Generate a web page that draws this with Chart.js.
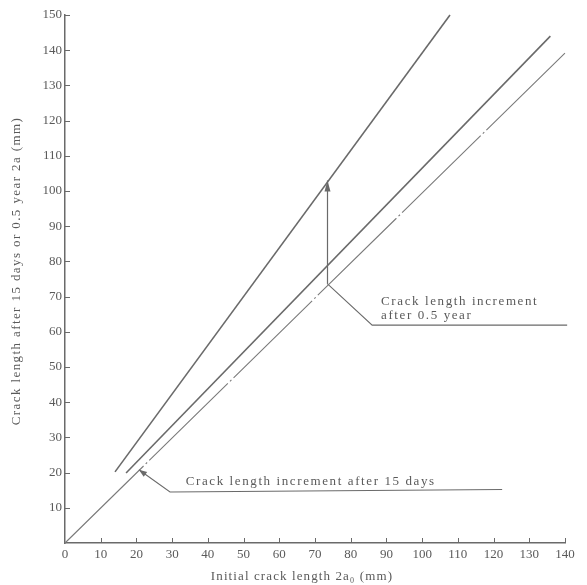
<!doctype html>
<html lang="en">
 <head>
  <meta charset="UTF-8">
  <title>Crack length increment</title>
  <script src="https://cdn.jsdelivr.net/npm/chart.js"></script>
  <style>
        body {
            margin: 0;
            padding: 0;
            background: #fff;
        }

        #wrap {
            width: 587px;
            height: 585px;
        }
    </style>
 </head>
 <body>
  <div id="wrap">
   <canvas id="chart"></canvas>
  </div>
  <script>
        // values (mm)
        const halfYearLine = [{ x: 14, y: 20.2 }, { x: 107.8, y: 150 }];
        const fifteenDayLine = [{ x: 17.1, y: 19.9 }, { x: 135.9, y: 144 }];
        const initialLine = [{ x: 0, y: 0 }, { x: 140, y: 139.2 }];

        const incrementArrow = [{ x: 73.5, y: 73.6 }, { x: 73.5, y: 103 }];
        const leaderHalfYear = [{ x: 73.5, y: 73.6 }, { x: 86, y: 61.9 }, { x: 140.6, y: 61.9 }];
        const leaderFifteenDays = [{ x: 20.7, y: 20.8 }, { x: 29.4, y: 14.5 }, { x: 122.4, y: 15.2 }];

        const xTicks = [0, 10, 20, 30, 40, 50, 60, 70, 80, 90, 100, 110, 120, 130, 140];
        const yTicks = [10, 20, 30, 40, 50, 60, 70, 80, 90, 100, 110, 120, 130, 140, 150];

        const notes = [
            { text: 'Crack length increment', x: 88.5, y: 67.5 },
            { text: 'after 0.5 year', x: 88.5, y: 63.5 },
            { text: 'Crack length increment after 15 days', x: 33.8, y: 16.6 }
        ];

        const xTitle = 'Initial crack length 2a\u2080 (mm)';
        const yTitle = 'Crack length after 15 days or 0.5 year 2a (mm)';

        const ink = '#6a6a6a';
        const textInk = '#5a5a5a';
        const serif = "'Liberation Serif', 'DejaVu Serif', serif";

        // small ticks pointing into the plot, arrow heads, notes and spaced-out axis titles
        const decorations = {
            id: 'decorations',
            afterDraw(chart) {
                const ctx = chart.ctx;
                const xs = chart.scales.x, ys = chart.scales.y;
                const area = chart.chartArea;
                ctx.save();
                ctx.strokeStyle = ink;
                ctx.lineWidth = 1;
                xTicks.forEach(v => {
                    if (v === 0) return;
                    const px = Math.round(xs.getPixelForValue(v)) + 0.5;
                    ctx.beginPath();
                    ctx.moveTo(px, area.bottom);
                    ctx.lineTo(px, area.bottom - 5);
                    ctx.stroke();
                });
                yTicks.forEach(v => {
                    const py = Math.round(ys.getPixelForValue(v)) + 0.5;
                    ctx.beginPath();
                    ctx.moveTo(area.left, py);
                    ctx.lineTo(area.left + 5, py);
                    ctx.stroke();
                });

                const head = (tip, from, len, half) => {
                    const tx = xs.getPixelForValue(tip.x), ty = ys.getPixelForValue(tip.y);
                    const fx = xs.getPixelForValue(from.x), fy = ys.getPixelForValue(from.y);
                    const a = Math.atan2(ty - fy, tx - fx);
                    ctx.fillStyle = ink;
                    ctx.beginPath();
                    ctx.moveTo(tx, ty);
                    ctx.lineTo(tx - len * Math.cos(a) + half * Math.sin(a), ty - len * Math.sin(a) - half * Math.cos(a));
                    ctx.lineTo(tx - len * Math.cos(a) - half * Math.sin(a), ty - len * Math.sin(a) + half * Math.cos(a));
                    ctx.closePath();
                    ctx.fill();
                };
                head(incrementArrow[1], incrementArrow[0], 11, 3);
                head(leaderFifteenDays[0], leaderFifteenDays[1], 8, 3);

                ctx.fillStyle = textInk;
                ctx.font = '13px ' + serif;
                ctx.letterSpacing = '1.6px';
                ctx.textBaseline = 'alphabetic';
                ctx.textAlign = 'left';
                notes.forEach(n => {
                    ctx.fillText(n.text, xs.getPixelForValue(n.x), ys.getPixelForValue(n.y));
                });

                // axis titles
                ctx.textAlign = 'center';
                ctx.textBaseline = 'middle';
                ctx.letterSpacing = '1.1px';
                ctx.fillText(xTitle, (area.left + area.right) / 2 - 13, 577);
                ctx.letterSpacing = '1.4px';
                ctx.translate(17, (area.top + area.bottom) / 2 - 8);
                ctx.rotate(-Math.PI / 2);
                ctx.fillText(yTitle, 0, 0);
                ctx.restore();
            }
        };

        const lineStyle = { borderColor: ink, borderWidth: 1.4, pointRadius: 0, fill: false, tension: 0, clip: false };

        new Chart(document.getElementById('chart'), {
            type: 'line',
            data: {
                datasets: [
                    { data: halfYearLine, ...lineStyle, borderWidth: 1.6 },
                    { data: fifteenDayLine, ...lineStyle, borderWidth: 1.6 },
                    { data: initialLine, ...lineStyle, borderColor: '#7a7a7a', borderWidth: 1.1, borderDash: [110, 3, 2, 3] },
                    { data: incrementArrow, ...lineStyle, borderWidth: 1.2 },
                    { data: leaderHalfYear, ...lineStyle, borderWidth: 1.1 },
                    { data: leaderFifteenDays, ...lineStyle, borderWidth: 1.1 }
                ]
            },
            options: {
                responsive: true,
                maintainAspectRatio: false,
                animation: false,
                layout: { padding: { top: 15, right: 22, left: 6, bottom: 0 } },
                plugins: { legend: { display: false }, tooltip: { enabled: false } },
                scales: {
                    x: {
                        type: 'linear',
                        min: 0,
                        max: 140,
                        afterBuildTicks: s => { s.ticks = xTicks.map(v => ({ value: v })); },
                        afterFit: s => { s.height = 42; },
                        grid: { display: true, drawOnChartArea: false, drawTicks: false },
                        border: { color: ink, width: 1.5 },
                        ticks: { color: textInk, font: { family: serif, size: 13 }, padding: 4, maxRotation: 0 },
                        title: { display: false }
                    },
                    y: {
                        type: 'linear',
                        min: 0,
                        max: 150,
                        afterBuildTicks: s => { s.ticks = yTicks.map(v => ({ value: v })); },
                        afterFit: s => { s.width = 59; },
                        grid: { display: true, drawOnChartArea: false, drawTicks: false },
                        border: { color: ink, width: 1.5 },
                        ticks: { color: textInk, font: { family: serif, size: 13 }, padding: 3 },
                        title: { display: false }
                    }
                }
            },
            plugins: [decorations]
        });
    </script>
 </body>
</html>
